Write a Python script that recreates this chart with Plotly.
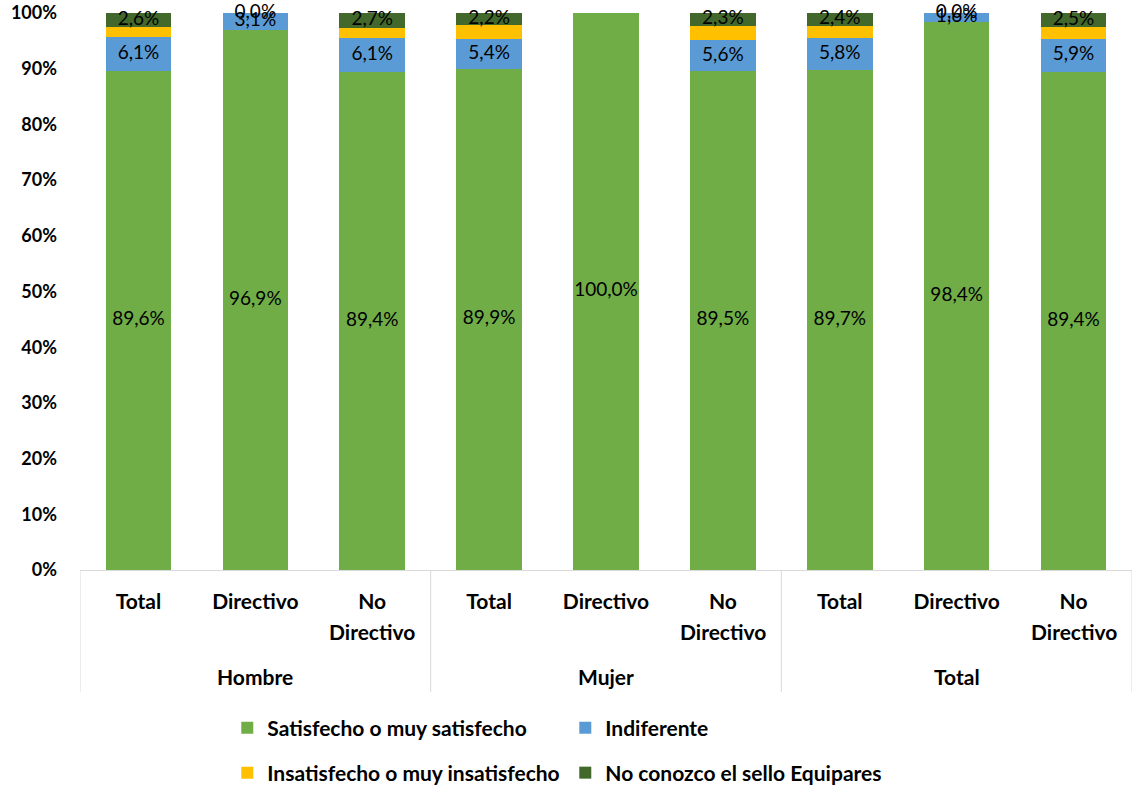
import plotly.graph_objects as go

groups = ["Hombre", "Mujer", "Total"]
subcats = ["Total", "Directivo", "No Directivo"]
series_names = ["Satisfecho o muy satisfecho", "Indiferente",
                "Insatisfecho o muy insatisfecho", "No conozco el sello Equipares"]
colors = ["#70AD47", "#5B9BD5", "#FFC000", "#43682B"]

satisfecho = [89.6, 96.9, 89.4, 89.9, 100.0, 89.5, 89.7, 98.4, 89.4]
indiferente = [6.1, 3.1, 6.1, 5.4, None, 5.6, 5.8, 1.6, 5.9]
insatisfecho = [1.7, 0.0, 1.8, 2.5, None, 2.6, 2.1, 0.0, 2.2]
no_conozco = [2.6, 0.0, 2.7, 2.2, None, 2.3, 2.4, 0.0, 2.5]
show_label = [True, True, False, True]

values = [satisfecho, indiferente, insatisfecho, no_conozco]
n = len(satisfecho)
xs = list(range(n))
FONT = "Lato"
BOLD = dict(family=FONT, size=21, color="black", weight="bold")

fig = go.Figure()
for i, (name, vals, col) in enumerate(zip(series_names, values, colors)):
    fig.add_trace(go.Bar(
        x=xs, y=[v if v is not None else 0 for v in vals], name=name,
        marker=dict(color=col, line=dict(width=0)), width=0.56,
        textposition="none", hoverinfo="skip",
        legend="legend" if i < 2 else "legend2",
    ))

# labels via scatter text at segment midpoints
base = [0.0] * n
for i, vals in enumerate(values):
    lx, ly, lt = [], [], []
    for j, v in enumerate(vals):
        vv = v if v is not None else 0
        if show_label[i] and v is not None:
            lx.append(j)
            ly.append(base[j] + vv / 2)
            lt.append(f"{v:.1f}".replace(".", ",") + "%")
        base[j] += vv
    if lx:
        fig.add_trace(go.Scatter(x=lx, y=ly, text=lt, mode="text", cliponaxis=False,
                                 textfont=dict(family=FONT, size=19, color="black"),
                                 showlegend=False, hoverinfo="skip"))

first_line = []
for g in groups:
    for s in subcats:
        first_line.append("No" if s == "No Directivo" else s)

fig.update_layout(
    barmode="stack",
    width=1133, height=787,
    margin=dict(l=80, r=1, t=13, b=217),
    plot_bgcolor="white", paper_bgcolor="white",
    font=dict(family=FONT, color="black"),
    xaxis=dict(range=[-0.5, n - 0.5], tickvals=xs, ticktext=first_line,
               tickfont=BOLD,
               showgrid=False, showline=True, linecolor="#D9D9D9", linewidth=1,
               ticks="", ticklabelstandoff=13, zeroline=False),
    yaxis=dict(range=[0, 100], dtick=10, ticksuffix="%",
               tickfont=dict(family=FONT, size=18, color="black", weight="bold"),
               showgrid=False, showline=False, zeroline=False,
               ticks="", ticklabelstandoff=22),
    legend=dict(orientation="h", xref="container", yref="container",
                x=0.2006, y=1 - 728 / 787, xanchor="left", yanchor="middle",
                traceorder="normal", entrywidth=293, font=BOLD,
                bgcolor="rgba(0,0,0,0)"),
    legend2=dict(orientation="h", xref="container", yref="container",
                 x=0.2006, y=1 - 773 / 787, xanchor="left", yanchor="middle",
                 traceorder="normal", entrywidth=293, font=BOLD,
                 bgcolor="rgba(0,0,0,0)"),
    showlegend=True,
)

annotations = []
for j, lab in enumerate([s for g in groups for s in subcats]):
    if lab == "No Directivo":
        annotations.append(dict(x=j, y=0, xref="x", yref="paper", text="Directivo",
                                showarrow=False, yanchor="middle", yshift=-61,
                                font=BOLD))
for gi, g in enumerate(groups):
    annotations.append(dict(x=gi * 3 + 1, y=0, xref="x", yref="paper", text=g,
                            showarrow=False, yanchor="middle", yshift=-106,
                            font=BOLD))
fig.update_layout(annotations=annotations)

for xb in [-0.5, 2.5, 5.5, 8.5]:
    fig.add_shape(type="line", xref="x", yref="paper", x0=xb, x1=xb,
                  ysizemode="pixel", yanchor=0, y0=0, y1=-122,
                  line=dict(color="#D9D9D9", width=1))

fig.write_html("out.html")
